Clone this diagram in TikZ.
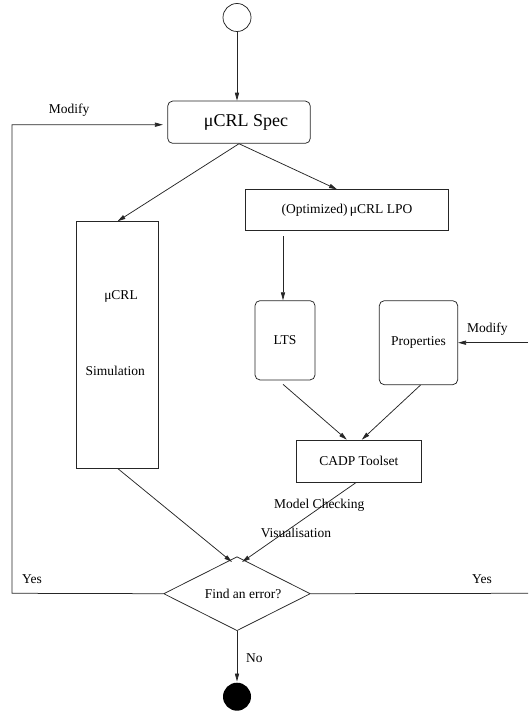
\documentclass[tikz,border=0pt]{standalone}
\usepackage{fontspec}
\setmainfont{Liberation Serif}
\usetikzlibrary{arrows.meta,shapes.geometric}
\tikzset{
  ln/.style={line width=0.75pt, draw=black!85},
  arr/.style={ln, -{Triangle[length=8pt,width=4.2pt]}},
  txt/.style={font=\fontsize{13.5}{16}\selectfont, inner sep=0pt},
  box/.style={ln, rectangle, inner sep=0pt, txt},
  rbox/.style={box, rounded corners=5pt},
}
\begin{document}
\begin{tikzpicture}[x=1pt,y=-1pt]
\useasboundingbox (0,0) rectangle (528,711);
% start / end
\node[ln, circle, minimum size=28pt, inner sep=0pt] (start) at (237,17.5) {};
\node[circle, fill=black, minimum size=28pt, inner sep=0pt] (endc) at (237,696.7) {};
% boxes
\node[rbox, minimum width=142.6pt, minimum height=42.3pt, font=\fontsize{18}{20}\selectfont] (spec) at (239,122.2) {\hspace{14pt}μCRL Spec};
\node[box, minimum width=202.6pt, minimum height=41pt] (lpo) at (347,210.2) {(Optimized)\,μCRL LPO};
\node[box, minimum width=82.4pt, minimum height=246.3pt] (sim) at (117.5,344.8) {};
\node[txt] (simA) at (121,296.7) {μCRL};
\node[txt] (simB) at (115.3,370.7) {Simulation};
\node[rbox, minimum width=60pt, minimum height=79.3pt] (lts) at (285,340.3) {LTS};
\node[rbox, minimum width=78.4pt, minimum height=84pt] (props) at (418.5,342.7) {Properties};
\node[box, minimum width=124.3pt, minimum height=42.3pt] (cadp) at (358.8,461.2) {CADP Toolset};
\node[ln, diamond, aspect=2, inner sep=0pt, minimum width=146.7pt, minimum height=74pt, txt] (dia) at (237,593.7) {\hspace{12pt}Find an error?};
% coordinates
\coordinate (lc1) at (12,593.3);
\coordinate (lc2) at (12,124.7);
\coordinate (rc1) at (528,593.3);
\coordinate (rc2) at (528,342.7);
% connectors
\draw[arr] (start.south) -- (start.south |- spec.north);
\draw[arr] (spec.south) -- (sim.north);
\draw[arr] (spec.south) -- ([xshift=-10pt]lpo.north);
\draw[arr] ([xshift=-64pt,yshift=-5pt]lpo.south) -- ([xshift=-2pt]lts.north);
\draw[arr] ([xshift=-2pt,yshift=-4pt]lts.south) -- ([xshift=-12pt]cadp.north);
\draw[arr] ([xshift=2pt]props.south) -- ([xshift=3pt]cadp.north);
\draw[arr] (sim.south) -- ([xshift=-5pt,yshift=-5.7pt]dia.north);
\draw[arr] ([xshift=-3pt]cadp.south) -- ([xshift=5pt,yshift=-5.7pt]dia.north);
\draw[arr] (dia.west) -- (lc1) -- (lc2) -- ([xshift=-4.4pt]lc2 -| spec.west);
\draw[ln] (dia.east) -- (rc1);
\draw[arr] (rc2) -- (props.east);
\draw[arr] (dia.south) -- ([yshift=1pt]endc.north);
% labels
\node[txt] (lmod1) at (69,110.7) {Modify};
\node[txt] (lmod2) at (487.3,329.3) {Modify};
\node[txt] (lmc) at (319.3,505) {Model Checking};
\node[txt] (lvis) at (296,533.3) {Visualisation};
\node[txt] (lyes1) at (32,579.3) {Yes};
\node[txt] (lyes2) at (482,579.3) {Yes};
\node[txt] (lno) at (254.3,658.3) {No};
\end{tikzpicture}
\end{document}
